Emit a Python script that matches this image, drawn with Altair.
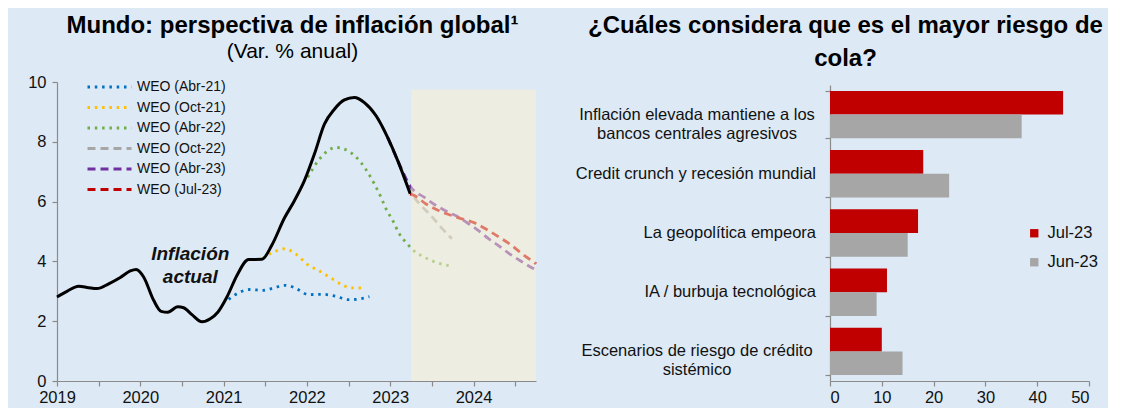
import altair as alt
import pandas as pd

# ---------------- Left panel data ----------------
actual_x = [2019.00, 2019.12, 2019.26, 2019.38, 2019.48, 2019.62, 2019.76, 2019.88, 2019.95,
            2020.04, 2020.16, 2020.25, 2020.33, 2020.45, 2020.52, 2020.62, 2020.74, 2020.84,
            2020.93, 2021.04, 2021.16, 2021.30, 2021.46, 2021.58, 2021.73, 2021.85, 2021.97,
            2022.09, 2022.21, 2022.33, 2022.45, 2022.57, 2022.69, 2022.83, 2022.97, 2023.09, 2023.24]
actual_y = [2.81, 3.00, 3.17, 3.12, 3.09, 3.25, 3.46, 3.68, 3.73,
            3.48, 2.70, 2.33, 2.30, 2.48, 2.45, 2.22, 1.98, 2.08,
            2.30, 2.81, 3.53, 4.06, 4.07, 4.55, 5.45, 6.03, 6.70,
            7.59, 8.59, 9.09, 9.40, 9.48, 9.31, 8.87, 8.14, 7.37, 6.26]

weo_names = ["WEO (Abr-21)", "WEO (Oct-21)", "WEO (Abr-22)", "WEO (Oct-22)", "WEO (Abr-23)", "WEO (Jul-23)"]
weo_colors = ["#0070C0", "#FFC000", "#70AD47", "#A6A6A6", "#7030A0", "#C00000"]
weo_dashes = [[2.5, 4.8], [2.5, 4.8], [2.5, 4.8], [8, 5], [8, 5], [8, 5]]

abr21_x = [2021.06, 2021.20, 2021.32, 2021.47, 2021.61, 2021.73, 2021.86, 2021.94, 2022.01, 2022.18, 2022.34, 2022.50, 2022.59, 2022.75]
abr21_y = [2.73, 2.98, 3.06, 3.03, 3.12, 3.20, 3.11, 2.98, 2.89, 2.90, 2.84, 2.72, 2.73, 2.82]

oct21_x = [2021.47, 2021.59, 2021.73, 2021.88, 2022.00, 2022.15, 2022.29, 2022.43, 2022.51, 2022.60, 2022.68]
oct21_y = [4.10, 4.30, 4.42, 4.22, 3.91, 3.68, 3.44, 3.21, 3.12, 3.11, 3.12]

abr22_x = [2022.01, 2022.15, 2022.35, 2022.51, 2022.63, 2022.73, 2022.81, 2022.89, 2022.95, 2023.03, 2023.11, 2023.21, 2023.27, 2023.41, 2023.58, 2023.73]
abr22_y = [6.81, 7.42, 7.81, 7.67, 7.37, 6.98, 6.59, 6.14, 5.76, 5.37, 4.92, 4.57, 4.39, 4.14, 3.94, 3.84]

oct22_x = [2022.33, 2022.45, 2022.57, 2022.69, 2022.83, 2022.97, 2023.09, 2023.24, 2023.29, 2023.37, 2023.49, 2023.61, 2023.74]
oct22_y = [9.09, 9.40, 9.48, 9.31, 8.87, 8.14, 7.37, 6.40, 6.14, 5.87, 5.53, 5.14, 4.76]

abr23_x = [2022.97, 2023.09, 2023.25, 2023.41, 2023.55, 2023.70, 2023.82, 2023.94, 2024.06, 2024.18, 2024.30, 2024.42, 2024.54, 2024.70, 2024.75]
abr23_y = [8.14, 7.37, 6.48, 6.14, 5.87, 5.64, 5.48, 5.26, 5.03, 4.76, 4.53, 4.28, 4.06, 3.79, 3.72]

jul23_x = [2023.24, 2023.29, 2023.43, 2023.58, 2023.71, 2023.86, 2024.02, 2024.18, 2024.32, 2024.46, 2024.58, 2024.72, 2024.75]
jul23_y = [6.26, 6.20, 5.92, 5.70, 5.56, 5.42, 5.28, 5.03, 4.79, 4.53, 4.26, 3.98, 3.92]

shade_start, shade_end, shade_top = 2023.25, 2024.75, 9.75
x_ticks = [2019, 2019.25, 2019.5, 2019.75, 2020, 2020.25, 2020.5, 2020.75,
           2021, 2021.25, 2021.5, 2021.75, 2022, 2022.25, 2022.5, 2022.75,
           2023, 2023.25, 2023.5, 2023.75, 2024, 2024.25, 2024.5, 2024.75]
y_ticks = [0, 2, 4, 6, 8, 10]
annot_text = ["Inflación", "actual"]
annot_x = [2020.60, 2020.60]
annot_y = [4.25, 3.48]

# ---------------- Right panel data ----------------
risks = ["Inflación elevada mantiene a los\nbancos centrales agresivos",
         "Credit crunch y recesión mundial",
         "La geopolítica empeora",
         "IA / burbuja tecnológica",
         "Escenarios de riesgo de crédito\nsistémico"]
survey_names = ["Jul-23", "Jun-23"]
survey_colors = ["#C00000", "#A6A6A6"]
jul23_vals = [45, 18, 17, 11, 10]
jun23_vals = [37, 23, 15, 9, 14]
bar_ticks = [0, 10, 20, 30, 40, 50]

FONT = "Liberation Sans"
AX = "#8a8a8a"
TXT = "#111111"
LBL = 16.5

# ---------- build tables ----------
frames = []
for name, xs, ys in zip(weo_names,
                        [abr21_x, oct21_x, abr22_x, oct22_x, abr23_x, jul23_x],
                        [abr21_y, oct21_y, abr22_y, oct22_y, abr23_y, jul23_y]):
    frames.append(pd.DataFrame({"fecha": xs, "valor": ys, "serie": name}))
weo_df = pd.concat(frames, ignore_index=True)
actual_df = pd.DataFrame({"fecha": actual_x, "valor": actual_y})
shade_df = pd.DataFrame({"x1": [shade_start], "x2": [shade_end], "y1": [0], "y2": [shade_top]})
annot_df = pd.DataFrame({"t": annot_text, "fecha": annot_x, "valor": annot_y})

xscale = alt.Scale(domain=[2019, 2024.75], nice=False, zero=False)
yscale = alt.Scale(domain=[0, 10], nice=False)
x_enc = alt.X("fecha:Q", scale=xscale, title=None,
              axis=alt.Axis(values=x_ticks, labelExpr="datum.value % 1 == 0 ? format(datum.value, 'd') : ''",
                            labelOverlap=False, labelFlush=False, tickSize=5, labelPadding=3))
y_enc = alt.Y("valor:Q", scale=yscale, title=None,
              axis=alt.Axis(values=y_ticks, format="d", tickSize=5, labelPadding=6))

leg_left = alt.Legend(orient="none", legendX=29, legendY=-5, title=None, symbolType="stroke",
                      symbolSize=1936, symbolStrokeWidth=2.8, clipHeight=20, rowPadding=0.5,
                      labelFontSize=14, labelFontWeight="normal", labelOffset=4, labelColor=TXT, labelFont=FONT)

weo_lines = alt.Chart(weo_df).mark_line(strokeWidth=2.8, strokeCap="butt", interpolate="monotone").encode(
    x=x_enc, y=y_enc,
    color=alt.Color("serie:N", scale=alt.Scale(domain=weo_names, range=weo_colors), legend=leg_left),
    strokeDash=alt.StrokeDash("serie:N", scale=alt.Scale(domain=weo_names, range=weo_dashes), legend=leg_left),
    detail="serie:N",
)
actual_line = alt.Chart(actual_df).mark_line(color="#000000", strokeWidth=3, interpolate="monotone").encode(
    x=x_enc, y=y_enc)
shade = alt.Chart(shade_df).mark_rect(color="#FDF1CF", opacity=0.5).encode(
    x="x1:Q", x2="x2:Q", y="y1:Q", y2="y2:Q")
annot = alt.Chart(annot_df).mark_text(font=FONT, fontSize=19, fontWeight="bold", fontStyle="italic",
                                      color=TXT, align="center", baseline="middle").encode(
    x=x_enc, y=y_enc, text="t:N")

left = alt.layer(weo_lines, actual_line, shade, annot).properties(
    width=479, height=299,
    title=alt.TitleParams(text="Mundo: perspectiva de inflación global¹", subtitle="(Var. % anual)",
                          font=FONT, fontSize=24, fontWeight="bold", color="#000000",
                          subtitleFont=FONT, subtitleFontSize=21, subtitleColor="#000000",
                          subtitlePadding=3, anchor="middle", frame="group", offset=12, dx=-4),
)

bar_rows = []
for r, a, b in zip(risks, jul23_vals, jun23_vals):
    bar_rows.append({"riesgo": r, "encuesta": survey_names[0], "valor": a})
    bar_rows.append({"riesgo": r, "encuesta": survey_names[1], "valor": b})
bar_df = pd.DataFrame(bar_rows)
lab_df = pd.DataFrame({"riesgo": risks, "multi": ["\n" in r for r in risks]})
multi_df = lab_df[lab_df["multi"]]
single_df = lab_df[~lab_df["multi"]]

ry = alt.Y("riesgo:N", sort=risks, title=None,
           scale=alt.Scale(domain=risks, paddingInner=0.2, paddingOuter=0.1, range=[3, 299]),
           axis=alt.Axis(labels=False, tickBand="extent", tickSize=5))
leg_right = alt.Legend(orient="none", legendX=196, legendY=143, title=None, symbolType="square",
                       symbolSize=70, symbolStrokeWidth=0, labelFontSize=LBL, rowPadding=12,
                       labelOffset=5, labelColor=TXT, labelFont=FONT)
bars = alt.Chart(bar_df).mark_bar().encode(
    y=ry,
    yOffset=alt.YOffset("encuesta:N", sort=survey_names, scale=alt.Scale(domain=survey_names)),
    x=alt.X("valor:Q", scale=alt.Scale(domain=[0, 50], nice=False), title=None,
            axis=alt.Axis(values=bar_ticks, tickSize=5, labelPadding=3)),
    color=alt.Color("encuesta:N", scale=alt.Scale(domain=survey_names, range=survey_colors), legend=leg_right),
)
lab_multi = alt.Chart(multi_df).mark_text(font=FONT, fontSize=LBL, color=TXT, align="center", baseline="middle",
                                          lineBreak="\n", lineHeight=19).encode(
    y=ry, x=alt.value(-133), text="riesgo:N")
lab_single = alt.Chart(single_df).mark_text(font=FONT, fontSize=LBL, color=TXT, align="right",
                                            baseline="middle").encode(
    y=ry, x=alt.value(-14), text="riesgo:N")

right = alt.layer(bars, lab_multi, lab_single).properties(
    width=259, height=299,
    title=alt.TitleParams(text=["¿Cuáles considera que es el mayor riesgo de", "cola?"], lineHeight=33,
                          font=FONT, fontSize=24, fontWeight="bold", color="#000000",
                          anchor="middle", frame="group", offset=11, dx=-114),
)

chart = alt.hconcat(left, right, spacing=33).resolve_scale(
    color="independent", strokeDash="independent"
).resolve_legend(color="independent", strokeDash="independent").properties(
    background="#DDE9F5",
    padding={"left": 19, "top": 6, "right": 5, "bottom": 2},
).configure(font=FONT).configure_view(stroke=None).configure_axis(
    grid=False, domainColor=AX, tickColor=AX, domainWidth=1.2, tickWidth=1.2,
    labelFont=FONT, labelFontSize=LBL, labelColor=TXT,
)

chart.save("out.html", embed_options={"renderer": "svg", "actions": False})
